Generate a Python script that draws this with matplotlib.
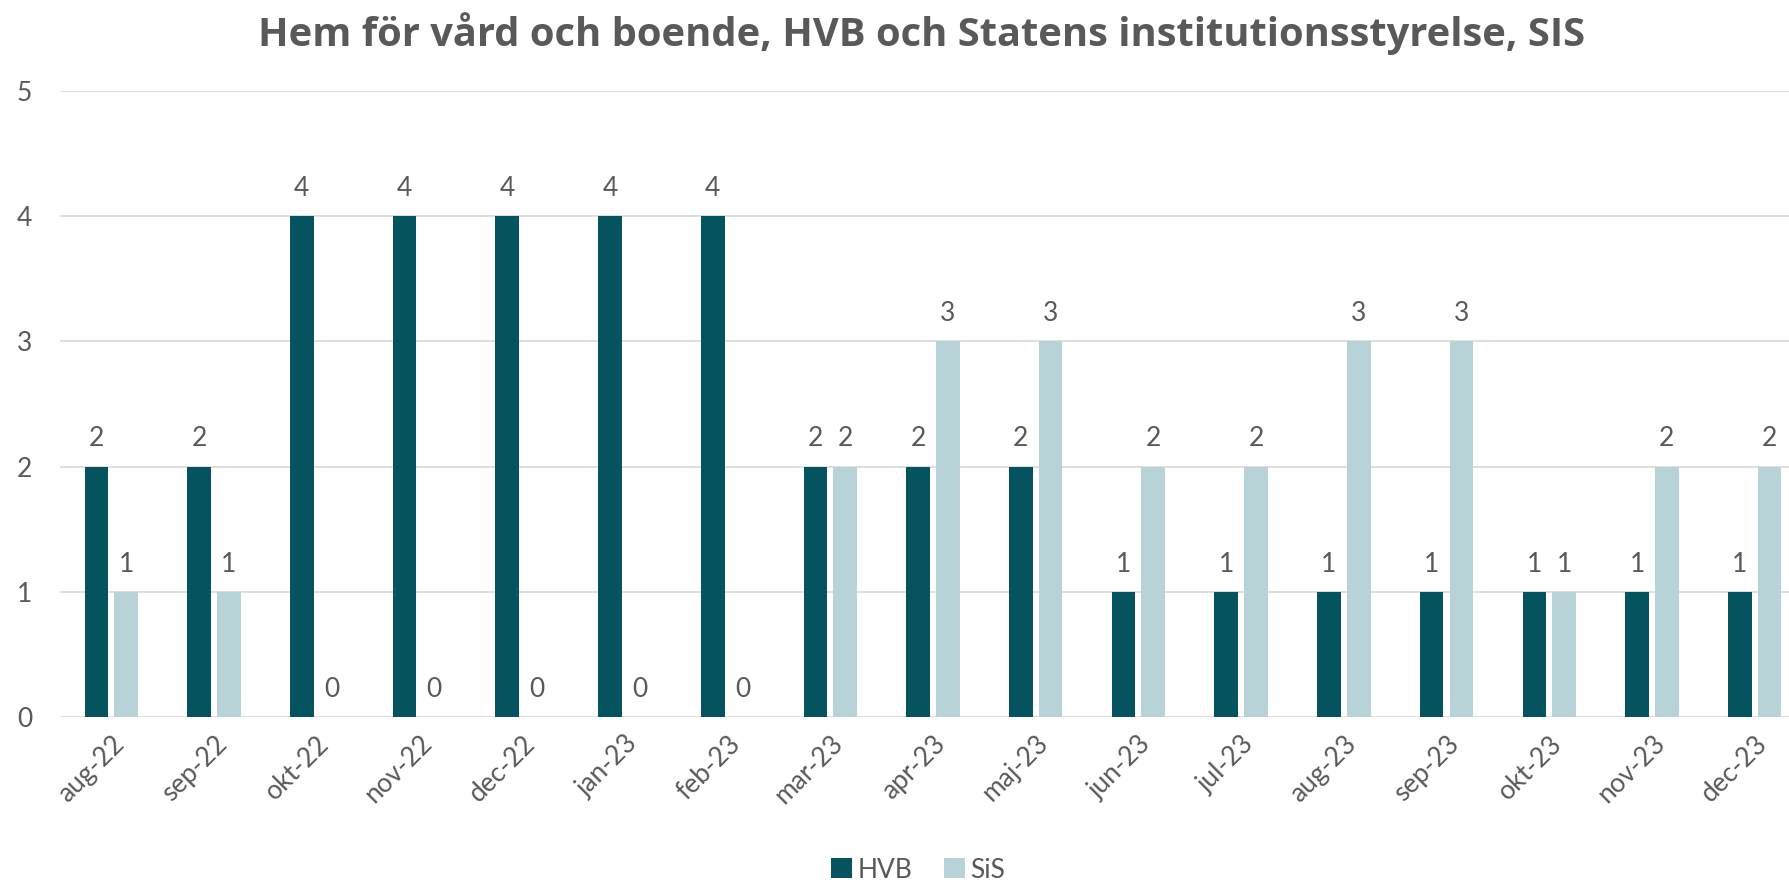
import matplotlib
matplotlib.use("Agg")
import matplotlib.pyplot as plt
import numpy as np

categories = ["aug-22", "sep-22", "okt-22", "nov-22", "dec-22", "jan-23", "feb-23",
              "mar-23", "apr-23", "maj-23", "jun-23", "jul-23", "aug-23", "sep-23",
              "okt-23", "nov-23", "dec-23"]
hvb = [2, 2, 4, 4, 4, 4, 4, 2, 2, 2, 1, 1, 1, 1, 1, 1, 1]
sis = [1, 1, 0, 0, 0, 0, 0, 2, 3, 3, 2, 2, 3, 3, 1, 2, 2]
series_names = ["HVB", "SiS"]
title = "Hem för vård och boende, HVB och Statens institutionsstyrelse, SIS"

plt.rcParams['font.family'] = ['Lato', 'DejaVu Sans']
txt = '#595959'
c_hvb = '#04535F'
c_sis = '#B8D3D7'

fig = plt.figure(figsize=(17.89, 8.85), dpi=100)
ax = fig.add_axes([60/1789, 1-717/885, (1806-60)/1789, (717-91)/885])

x = np.arange(len(categories))
w = 0.23
off = 0.145
b1 = ax.bar(x - off, hvb, w, color=c_hvb, label=series_names[0], zorder=3)
b2 = ax.bar(x + off, sis, w, color=c_sis, label=series_names[1], zorder=3)
for bars, vals in ((b1, hvb), (b2, sis)):
    for r, v in zip(bars, vals):
        ax.annotate(str(v), (r.get_x() + r.get_width()/2, v), xytext=(0, 11),
                    textcoords='offset points', ha='center', va='bottom',
                    fontsize=19, color=txt, annotation_clip=False)

ax.set_xlim(-0.5, len(categories) - 0.5)
ax.set_ylim(0, 5)
ax.set_yticks(range(6))
ax.grid(axis='y', color='#D9D9D9', linewidth=1.2, zorder=0)
for s in ax.spines.values():
    s.set_visible(False)
ax.tick_params(axis='both', length=0, labelsize=19, colors=txt)
ax.tick_params(axis='x', pad=10)
ax.tick_params(axis='y', pad=20)
ax.set_xticks(x)
ax.set_xticklabels(categories, rotation=45, ha='right', rotation_mode='anchor')

fig.text(922/1789, 1-34/885, title, ha='center', va='center', fontsize=28.7,
         fontweight='bold', color=txt, family=['Open Sans', 'DejaVu Sans'])

leg = fig.legend(handles=[b1, b2], labels=series_names, loc='center',
                 bbox_to_anchor=(918/1789, 1-870/885), ncol=2, frameon=False,
                 fontsize=19, handlelength=0.8, handleheight=0.8,
                 handletextpad=0.2, columnspacing=1.2, labelcolor=txt)

fig.savefig('out.png', dpi=100)
